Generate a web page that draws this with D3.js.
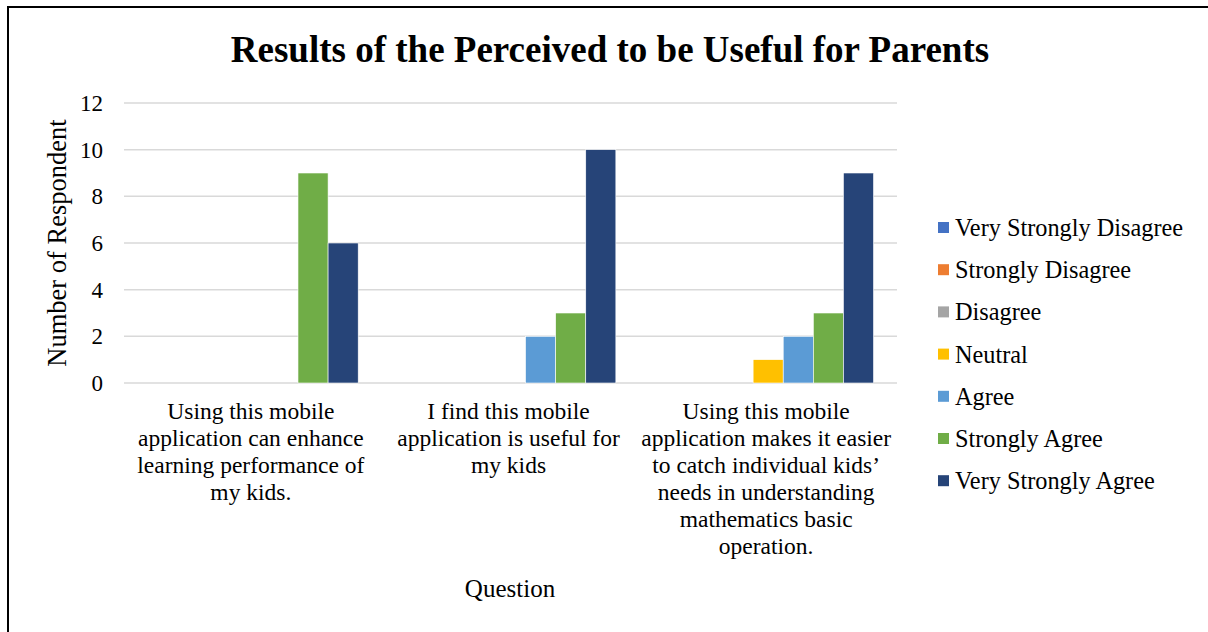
<!DOCTYPE html>
<html>
<head>
<meta charset="utf-8">
<script src="https://cdn.jsdelivr.net/npm/d3@7"></script>
<style>
  html, body { margin: 0; padding: 0; background: #fff; }
  svg { display: block; }
  text { font-family: "Liberation Serif", "Times New Roman", serif; fill: #000; }
</style>
</head>
<body>
<svg id="chart" width="1208" height="632"></svg>
<script>
const categories = [
  ["Using this mobile", "application can enhance", "learning performance of", "my kids."],
  ["I find this mobile", "application is useful for", "my kids"],
  ["Using this mobile", "application makes it easier", "to catch individual kids\u2019", "needs in understanding", "mathematics basic", "operation."]
];
const categoryIds = ["Q1", "Q2", "Q3"];
const seriesNames = ["Very Strongly Disagree", "Strongly Disagree", "Disagree", "Neutral", "Agree", "Strongly Agree", "Very Strongly Agree"];
const seriesColors = ["#4472C4", "#ED7D31", "#A5A5A5", "#FFC000", "#5B9BD5", "#70AD47", "#264478"];
const veryStronglyDisagree = [0, 0, 0];
const stronglyDisagree = [0, 0, 0];
const disagree = [0, 0, 0];
const neutral = [0, 0, 1];
const agree = [0, 2, 2];
const stronglyAgree = [9, 3, 3];
const veryStronglyAgree = [6, 10, 9];
const yTicks = [0, 2, 4, 6, 8, 10, 12];
const titleText = "Results of the Perceived to be Useful for Parents";
const xTitle = "Question";
const yTitle = "Number of Respondent";

const seriesValues = [veryStronglyDisagree, stronglyDisagree, disagree, neutral, agree, stronglyAgree, veryStronglyAgree];

const svg = d3.select("#chart");
const W = 1208, H = 632;

// outer frame (left and top edges visible)
svg.append("path").attr("d", `M8,${H} L8,7 L${W},7`).attr("fill", "none").attr("stroke", "#000").attr("stroke-width", 2);

const plot = { left: 124, right: 897, top: 103, bottom: 383 };

const x0 = d3.scaleBand().domain(categoryIds).range([plot.left, plot.right]).padding(0);
const x1 = d3.scaleBand().domain(seriesNames).range([0, x0.bandwidth()]).paddingInner(0).paddingOuter(0.78);
const y = d3.scaleLinear().domain([0, 12]).range([plot.bottom, plot.top]);

// gridlines
svg.append("g").selectAll("line").data(yTicks).join("line")
  .attr("x1", plot.left).attr("x2", plot.right)
  .attr("y1", d => y(d)).attr("y2", d => y(d))
  .attr("stroke", "#d9d9d9").attr("stroke-width", 1.5);

// y tick labels via axis
const yAxis = d3.axisLeft(y).tickValues(yTicks).tickSize(0).tickPadding(0).tickFormat(d3.format("d"));
const yg = svg.append("g").attr("transform", `translate(${plot.left - 21},0)`).call(yAxis);
yg.select(".domain").remove();
yg.selectAll("text").style("font-family", '"Liberation Serif", serif').style("font-size", "23px").attr("fill", "#000");

// bars
const groups = svg.append("g").selectAll("g").data(categoryIds).join("g")
  .attr("transform", d => `translate(${x0(d)},0)`);
groups.selectAll("rect").data((d, i) => seriesNames.map((s, j) => ({ s, j, v: seriesValues[j][i] })))
  .join("rect")
  .filter(d => d.v > 0)
  .attr("x", d => x1(d.s))
  .attr("width", x1.bandwidth())
  .attr("y", d => y(d.v))
  .attr("height", d => y(0) - y(d.v))
  .attr("fill", d => seriesColors[d.j])
  .attr("stroke", "#ffffff").attr("stroke-width", 0.6);

// x category labels
const lab = svg.append("g");
categories.forEach((lines, i) => {
  const cx = x0(categoryIds[i]) + x0.bandwidth() / 2;
  const t = lab.append("text").attr("text-anchor", "middle").style("font-size", "23.5px")
    .attr("transform", `translate(${cx - 2},0)`);
  lines.forEach((ln, k) => {
    t.append("tspan").attr("x", 0).attr("y", 419 + k * 27).text(ln);
  });
});

// axis titles
svg.append("text").attr("x", 510).attr("y", 597).attr("text-anchor", "middle").style("font-size", "25px").text(xTitle);
svg.append("text").attr("transform", "translate(66,243) rotate(-90)").attr("text-anchor", "middle").style("font-size", "26.5px").text(yTitle);

// title
svg.append("text").attr("x", 610).attr("y", 62).attr("text-anchor", "middle")
  .style("font-size", "37px").style("font-weight", "bold").text(titleText);

// legend
const leg = svg.append("g").attr("transform", "translate(938,0)");
const lg = leg.selectAll("g").data(seriesNames).join("g")
  .attr("transform", (d, i) => `translate(0,${228 + i * 42.2})`);
lg.append("rect").attr("x", 0).attr("y", -6).attr("width", 11).attr("height", 11).attr("fill", (d, i) => seriesColors[i]);
lg.append("text").attr("x", 17).attr("y", 8).style("font-size", "24.3px").text(d => d);
</script>
</body>
</html>
